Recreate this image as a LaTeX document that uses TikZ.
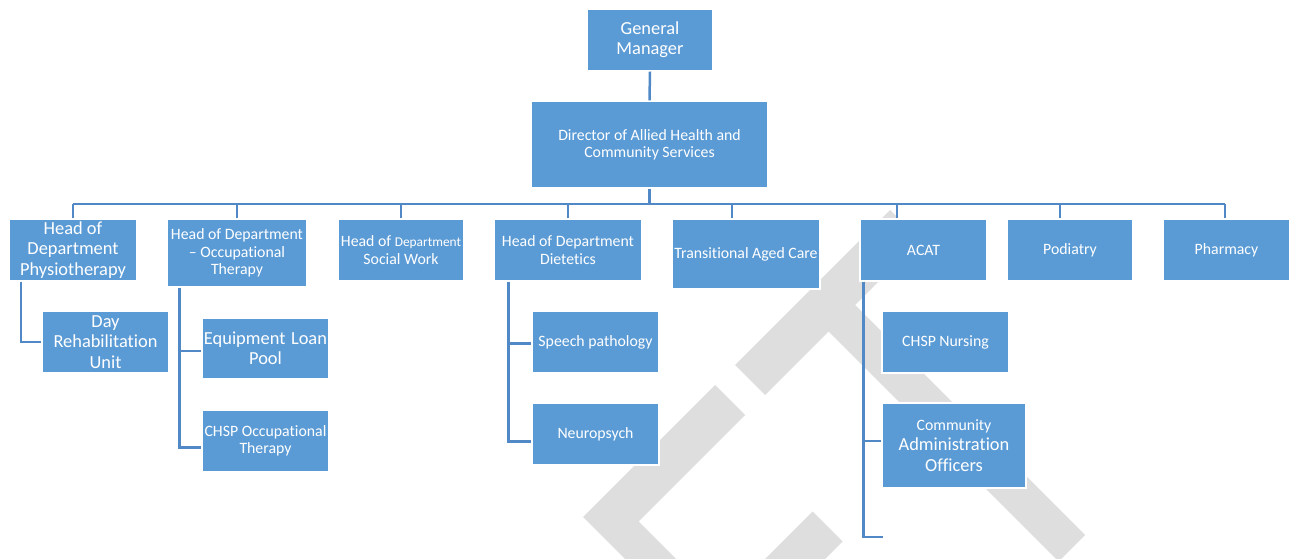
\documentclass[tikz,border=0pt]{standalone}
\usepackage{fontspec}
\setmainfont{Carlito}[Ligatures=CommonOff]
\usetikzlibrary{calc}

\definecolor{boxblue}{HTML}{5B9BD5}
\definecolor{linkblue}{HTML}{5089C6}
\definecolor{markgrey}{HTML}{DEDEDE}

\newcommand\orgnorm{\fontsize{15.8}{17.4}\selectfont}
\newcommand\orgbig{\fontsize{18.4}{20.2}\selectfont}
\newcommand\orgsmall{\fontsize{13.4}{14.7}\selectfont}

\begin{document}
\begin{tikzpicture}[x=1pt,y=-1pt,
  box/.style={rectangle, fill=boxblue, draw=white, line width=1.2pt,
    text=white, align=center, inner sep=0pt, font=\orgnorm},
  bigtext/.style={font=\orgbig},
  link/.style={draw=linkblue, line width=2.5pt}]

\useasboundingbox (0,0) rectangle (1296,559);
\fill[white] (0,0) rectangle (1296,559);

% background logo mark
\begin{scope}
  \clip (0,0) rectangle (1296,559);
  \fill[markgrey] (583,517) -- (715,385) -- (745,415) -- (638.5,521.5)
    -- (708.5,591.5) -- (683,617) -- cycle;
  \fill[markgrey] (735,365) -- (890,210) -- (920,240) -- (855,305)
    -- (1085,535) -- (1058.5,561.5) -- (828.5,331.5) -- (765,395) -- cycle;
  \fill[markgrey] (812.5,511.5) -- (842.5,541.5) -- (767,617) -- (737,587) -- cycle;
\end{scope}

% top levels
\node[box, bigtext, minimum width=126pt, minimum height=62pt] (gm) at (650,40) {General\\Manager};
\node[box, minimum width=237pt, minimum height=87pt] (dir) at (649.5,144.5)
  {Director of Allied Health and\\Community Services};

% department heads and services
\node[box, bigtext, minimum width=128pt, minimum height=62pt] (phys) at (73,250)
  {Head of\\Department\\Physiotherapy};
\node[box, minimum width=140pt, minimum height=68pt] (ot) at (237,253)
  {Head of Department\\– Occupational\\Therapy};
\node[box, minimum width=126pt, minimum height=62pt] (sw) at (401,250)
  {Head of {\orgsmall Department}\\Social Work};
\node[box, minimum width=148pt, minimum height=62pt] (diet) at (568,250)
  {Head of Department\\Dietetics};
\node[box, minimum width=148pt, minimum height=70pt] (tac) at (746,254)
  {Transitional Aged Care};
\node[box, minimum width=127pt, minimum height=62pt] (acat) at (923.5,250) {ACAT};
\node[box, minimum width=126pt, minimum height=62pt] (pod) at (1070,250) {Podiatry};
\node[box, minimum width=127pt, minimum height=62pt] (pharm) at (1226.5,250) {Pharmacy};

% units under the heads
\node[box, bigtext, minimum width=127pt, minimum height=62pt] (day) at (105.5,342)
  {Day\\Rehabilitation\\Unit};
\node[box, bigtext, minimum width=127pt, minimum height=61pt] (equip) at (265.5,348.5)
  {Equipment\hspace{1.5pt} Loan\\Pool};
\node[box, minimum width=127pt, minimum height=62pt] (chspot) at (265.5,441)
  {CHSP Occupational\\Therapy};
\node[box, minimum width=127pt, minimum height=62pt] (speech) at (595.5,342)
  {Speech pathology};
\node[box, minimum width=127pt, minimum height=62pt] (neuro) at (595.5,434)
  {Neuropsych};
\node[box, minimum width=127pt, minimum height=62pt] (nurse) at (945.5,342)
  {CHSP Nursing};
\node[box, bigtext, minimum width=144pt, minimum height=85pt] (comm) at (954,445.5)
  {{\orgnorm Community}\\Administration\\Officers};

\coordinate (bus) at (650,204);
\coordinate (acatend) at (883,537);

% connectors
\draw[link] (gm.south) -- (dir.north);
\draw[link] (dir.south) -- (dir.south |- bus);
\draw[link] (phys.north |- bus) -- ([xshift=-1.5pt]pharm.north |- bus);
\foreach \n in {phys, ot, sw, diet}
  \draw[link] (\n.north) -- (\n.north |- bus);
\draw[link] ([xshift=-14pt]tac.north) -- ([xshift=-14pt]tac.north |- bus);
\draw[link] ([xshift=-26.5pt]acat.north) -- ([xshift=-26.5pt]acat.north |- bus);
\draw[link] ([xshift=-10pt]pod.north) -- ([xshift=-10pt]pod.north |- bus);
\draw[link] ([xshift=-1.5pt]pharm.north) -- ([xshift=-1.5pt]pharm.north |- bus);

\draw[link] ([xshift=-52pt]phys.south) |- (day.west);
\draw[link] ([xshift=-57.7pt]ot.south) |- ([yshift=-2.5pt]equip.west);
\draw[link] ([xshift=-57.7pt]ot.south) |- ([yshift=-6.7pt]chspot.west);
\draw[link] ([xshift=-59.7pt]diet.south) |- ([yshift=-1.3pt]speech.west);
\draw[link] ([xshift=-59.7pt]diet.south) |- ([yshift=-7.7pt]neuro.west);
\draw[link] ([xshift=-60.2pt]acat.south) |- ([yshift=4.5pt]comm.west);
\draw[link] ([xshift=-60.2pt]acat.south) |- (acatend);

\end{tikzpicture}
\end{document}
